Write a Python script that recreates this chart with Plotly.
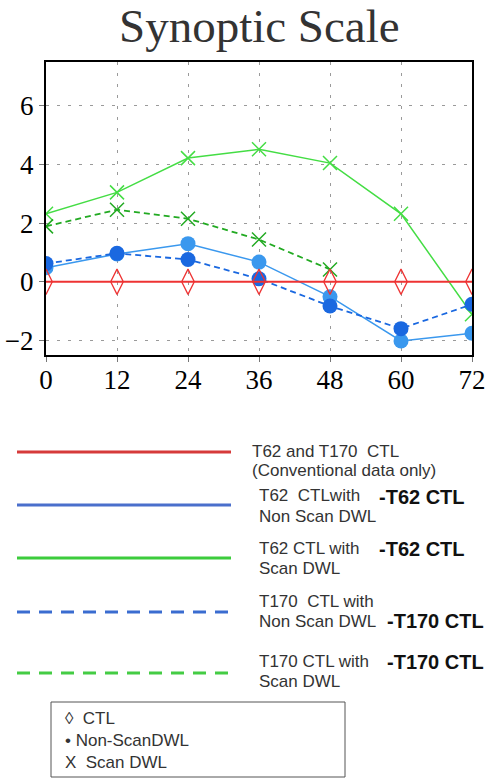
import plotly.graph_objects as go

# ---- data ----
lead_hours = [0, 12, 24, 36, 48, 60, 72]
ctl = [0, 0, 0, 0, 0, 0, 0]
t62_nonscan = [0.48, 0.95, 1.30, 0.67, -0.51, -2.02, -1.76]
t62_scan = [2.32, 3.05, 4.22, 4.52, 4.05, 2.32, -1.11]
t170_nonscan = [0.62, 0.97, 0.76, 0.10, -0.83, -1.60, -0.77]
t170_scan_hours = [0, 12, 24, 36, 48]
t170_scan = [1.89, 2.46, 2.15, 1.44, 0.42]

x_ticks = [0, 12, 24, 36, 48, 60, 72]
y_ticks = [-2, 0, 2, 4, 6]

W, H = 488, 778
L, R, T, B = 46, 472, 62, 355  # plot area in pixels


def px(X):
    return (X - L) / (R - L)


def py(Y):
    return (B - Y) / (B - T)


RED = "#ee3333"
BLUE_L = "#3a98ee"
BLUE_D = "#1a68e0"
GREEN_L = "#44dd44"
GREEN_D = "#22aa22"

fig = go.Figure()

fig.add_trace(go.Scatter(
    x=lead_hours, y=t62_scan, mode="lines+markers",
    line=dict(color=GREEN_L, width=1.5),
    marker=dict(symbol="x-thin-open", size=14, line=dict(color=GREEN_L, width=1.5)),
    showlegend=False))
fig.add_trace(go.Scatter(
    x=t170_scan_hours, y=t170_scan, mode="lines+markers",
    line=dict(color=GREEN_D, width=1.8, dash="6px,4px"),
    marker=dict(symbol="x-thin-open", size=14, line=dict(color=GREEN_D, width=1.5)),
    showlegend=False))
fig.add_trace(go.Scatter(
    x=lead_hours, y=t62_nonscan, mode="lines+markers",
    line=dict(color=BLUE_L, width=1.5),
    marker=dict(symbol="circle", size=15, color=BLUE_L),
    showlegend=False))
fig.add_trace(go.Scatter(
    x=lead_hours, y=t170_nonscan, mode="lines+markers",
    line=dict(color=BLUE_D, width=1.8, dash="6px,4px"),
    marker=dict(symbol="circle", size=15, color=BLUE_D),
    showlegend=False))
fig.add_trace(go.Scatter(
    x=lead_hours, y=ctl, mode="lines+markers",
    line=dict(color=RED, width=1.8),
    marker=dict(symbol="diamond-tall-open", size=18, line=dict(color=RED, width=1.3)),
    showlegend=False))

axis_font = dict(family="Liberation Serif", size=27, color="#000")
fig.update_xaxes(
    range=[0, 72], tickvals=x_ticks, ticktext=[str(v) for v in x_ticks],
    showline=True, linecolor="#000", linewidth=2, mirror=True,
    ticks="outside", ticklen=5, tickcolor="#777", tickwidth=1,
    ticklabelstandoff=-5,
    showgrid=True, gridcolor="#9a9a9a", gridwidth=1, griddash="3px,8px",
    zeroline=False, tickfont=axis_font, automargin=False)
fig.update_yaxes(
    range=[-2.5, 7.5], tickvals=y_ticks,
    showline=True, linecolor="#000", linewidth=2, mirror=True,
    ticks="outside", ticklen=5, tickcolor="#777", tickwidth=1,
    showgrid=True, gridcolor="#9a9a9a", gridwidth=1, griddash="3px,8px",
    zeroline=False, tickfont=axis_font, automargin=False)

shapes = []
annos = []

# title
annos.append(dict(text="Synoptic Scale", x=0.5, y=py(26), xref="paper", yref="paper",
                  xanchor="center", yanchor="middle", showarrow=False,
                  font=dict(family="Liberation Serif", size=47, color="#333")))

# legend lines
leg_lines = [
    (452, "#d63a3a", "solid"),
    (505, "#4a6fcc", "solid"),
    (558, "#3ccc3c", "solid"),
    (612, "#3a6cd0", "13px,9px"),
    (673, "#44cc44", "13px,9px"),
]
for yy, col, dash in leg_lines:
    shapes.append(dict(type="line", xref="paper", yref="paper",
                       x0=px(17), x1=px(231), y0=py(yy), y1=py(yy),
                       line=dict(color=col, width=3, dash=dash)))

reg = dict(family="Liberation Sans", size=17, color="#333")
bold = dict(family="Liberation Sans", size=20, color="#111")


def txt(s, X, Y, font):
    annos.append(dict(text=s, x=px(X), y=py(Y), xref="paper", yref="paper",
                      xanchor="left", yanchor="middle", showarrow=False, font=font))


txt("T62 and T170  CTL", 250, 451, reg)
txt("(Conventional data only)", 250, 470, reg)
txt("T62  CTLwith", 257, 495, reg)
txt("Non Scan DWL", 257, 516, reg)
txt("<b>-T62 CTL</b>", 377, 497, bold)
txt("T62 CTL with", 257, 548, reg)
txt("Scan DWL", 257, 568, reg)
txt("<b>-T62 CTL</b>", 377, 549, bold)
txt("T170  CTL with", 257, 601, reg)
txt("Non Scan DWL", 257, 621, reg)
txt("<b>-T170 CTL</b>", 385, 621, bold)
txt("T170 CTL with", 257, 661, reg)
txt("Scan DWL", 257, 681, reg)
txt("<b>-T170 CTL</b>", 385, 662, bold)

# marker key box
shapes.append(dict(type="rect", xref="paper", yref="paper",
                   x0=px(51), x1=px(345), y0=py(702), y1=py(777),
                   line=dict(color="#555", width=1), fillcolor="rgba(0,0,0,0)"))
txt("◊  CTL", 63, 718, reg)
txt("• Non-ScanDWL", 63, 740, reg)
txt("X  Scan DWL", 63, 762, reg)

fig.update_layout(
    width=W, height=H,
    margin=dict(l=L, r=W - R, t=T, b=H - B, pad=0, autoexpand=False),
    paper_bgcolor="white", plot_bgcolor="white",
    shapes=shapes, annotations=annos,
)

fig.write_html(
    "out.html",
    config={"displayModeBar": False},
    post_script="document.body.style.margin='0';document.body.style.overflow='hidden';",
)
